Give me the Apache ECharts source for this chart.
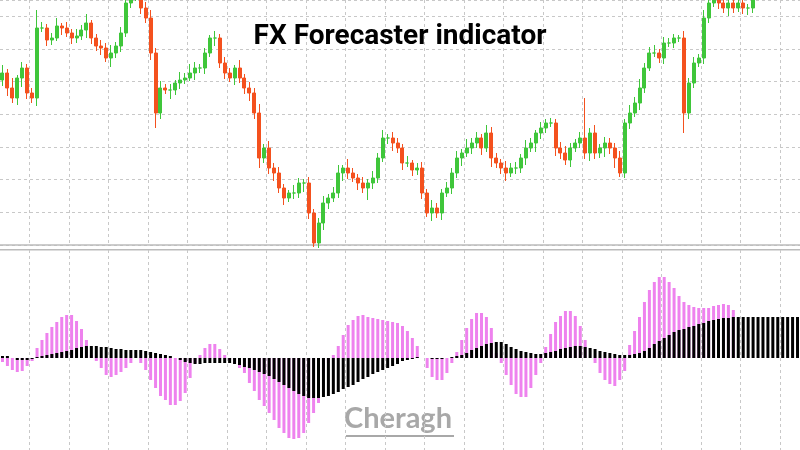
<!DOCTYPE html>
<html>
<head>
<meta charset="utf-8">
<script src="https://cdn.jsdelivr.net/npm/echarts@6/dist/echarts.min.js"></script>
<style>html,body{margin:0;padding:0;background:#fff}#chart{width:800px;height:450px}</style>
</head>
<body>
<div id="chart"></div>
<script>
// price closes (chart units), first open, and wick lengths above/below the body
var closes = [172,157,147,167,177,152,147,217,217,205,207,219,217,212,207,209,215,222,207,199,197,187,192,199,212,242,252,257,237,227,192,132,157,155,155,162,165,167,172,177,177,192,207,207,182,172,167,177,167,157,152,132,87,97,77,72,57,47,52,52,62,62,32,2,22,42,47,52,72,77,72,67,62,57,62,67,87,107,107,102,97,82,82,75,77,52,32,37,32,52,57,72,87,92,97,102,107,97,112,87,82,77,72,77,77,87,97,102,112,117,122,122,97,92,85,97,102,107,92,112,92,97,102,97,87,72,122,132,142,157,177,192,192,187,202,202,207,207,132,162,182,187,227,242,247,242,237,242,237,242,237,237,247];
var firstOpen = 165;
var wickUp = [8,4,10,3,6,4,5,18,6,4,5,8,3,6,4,7,5,9,3,4,6,5,8,4,6,12,5,4,3,6,8,5,7,4,6,3,8,5,9,6,4,5,3,7,4,6,5,3,8,4,6,5,9,4,7,5,6,4,3,8,5,4,6,4,5,7,4,6,8,3,9,5,4,6,4,7,5,8,4,6,5,4,7,3,5,6,4,8,5,4,6,5,7,4,9,5,6,4,8,6,5,4,7,5,6,4,8,5,3,6,4,5,4,6,7,5,4,6,40,5,8,4,6,5,5,7,4,8,6,9,5,6,8,4,6,5,4,3,7,5,6,4,8,6,5,4,7,5,4,6,5,4,6];
var wickDown = [6,8,5,7,9,6,5,8,4,6,5,3,7,4,6,5,4,8,6,5,7,4,9,5,6,4,5,8,6,5,7,15,6,4,9,5,6,4,3,7,5,6,4,8,5,6,4,7,5,6,8,6,10,5,6,8,5,7,4,6,5,9,6,4,5,7,6,4,5,8,6,4,7,5,12,6,5,4,6,8,5,7,4,6,5,6,4,8,5,7,4,6,5,8,4,6,5,7,4,9,5,6,8,4,6,5,7,4,9,6,5,4,8,6,5,7,4,5,6,8,6,5,9,6,10,4,5,6,4,7,5,3,4,5,6,4,5,4,20,6,5,4,6,5,4,6,5,8,5,4,6,7,5];
// indicator histograms (zero = 0)
var forecast = [-4,-8,-12,-14,-13,-8,-3,10,18,25,31,36,41,43,43,37,29,18,3,-3,-10,-17,-19,-17,-14,-10,-5,0,-5,-12,-22,-30,-38,-42,-47,-47,-43,-35,-20,-5,3,10,14,14,9,3,-2,-5,-10,-15,-25,-33,-42,-48,-55,-62,-70,-75,-80,-81,-80,-75,-65,-55,-45,-15,-5,3,12,23,33,38,42,43,41,40,39,38,37,36,35,32,27,20,12,0,-10,-19,-22,-22,-15,-5,6,18,30,39,45,45,41,30,5,-5,-17,-27,-36,-39,-39,-30,-17,-5,11,24,36,42,47,47,42,32,18,0,-5,-15,-22,-26,-28,-22,-13,13,27,41,56,68,76,81,81,76,70,62,56,53,51,50,50,50,52,53,54,53,48];
var trend = [2,2,0,-2,-2,-2,-1,1,2,3,4,5,6,7,8,10,11,12,12,12,11,11,10,9,9,8,8,8,8,7,6,5,4,3,2,0,-2,-4,-5,-6,-6,-5,-5,-5,-5,-5,-5,-6,-7,-9,-10,-12,-14,-16,-18,-21,-24,-27,-30,-33,-36,-38,-40,-40,-40,-39,-38,-36,-34,-31,-29,-27,-24,-21,-19,-16,-14,-12,-10,-8,-6,-3,-2,-1,1,0,0,-1,-1,-1,0,1,2,3,5,8,10,12,14,15,16,16,14,11,9,7,6,5,4,4,5,6,7,9,10,11,12,12,11,10,9,7,6,5,4,3,3,3,4,5,7,10,14,17,20,23,26,28,29,31,32,34,35,37,38,39,40,40,41,41,41,41,41,41,41,41,41,41,41,41,41,41];

var cats = trend.map(function (v, i) { return i; });
var candles = closes.map(function (c, i) {
    var o = i === 0 ? firstOpen : closes[i - 1];
    return [o, c, Math.min(o, c) - wickDown[i], Math.max(o, c) + wickUp[i]];
});

var gridLine = function (idx) { return (idx - 6) % 8 === 0; };
var dash = { show: true, interval: gridLine, lineStyle: { color: '#c8c8c8', type: [3, 3], width: 1 } };

var chart = echarts.init(document.getElementById('chart'));
chart.setOption({
    animation: false,
    backgroundColor: '#fff',
    title: {
        text: 'FX Forecaster indicator', left: 'center', top: 18,
        textStyle: { fontFamily: 'Roboto', fontWeight: 'bold', fontSize: 28, color: '#000' }
    },
    graphic: [{
        type: 'text', left: 344, top: 404,
        style: { text: 'Cheragh', fontFamily: 'Lato', fontWeight: 'bold', fontSize: 29, fill: '#a8a8a8' }
    }, {
        type: 'rect', left: 346, top: 435, shape: { width: 108, height: 2 }, style: { fill: '#a8a8a8' }
    }, {
        type: 'rect', left: 0, top: 249, shape: { width: 800, height: 1.5 }, style: { fill: '#bbb' }
    }],
    grid: [
        { left: 0, right: 0, top: 0, height: 245 },
        { left: 0, right: 0, top: 250, bottom: 0 }
    ],
    xAxis: [{
        type: 'category', gridIndex: 0, data: cats,
        axisTick: { show: false, alignWithLabel: true, interval: gridLine }, axisLabel: { show: false },
        axisLine: { lineStyle: { color: '#bbb', width: 1.5 } }, splitLine: dash
    }, {
        type: 'category', gridIndex: 1, data: cats, position: 'top',
        axisTick: { show: false, alignWithLabel: true, interval: gridLine }, axisLabel: { show: false },
        axisLine: { show: false }, splitLine: dash
    }],
    yAxis: [{
        type: 'value', gridIndex: 0, min: 0, max: 245, interval: 32.7,
        axisLabel: { show: false }, axisLine: { show: false }, axisTick: { show: false },
        splitLine: { lineStyle: { color: '#c8c8c8', type: [3, 3] } }
    }, {
        type: 'value', gridIndex: 1, min: -92, max: 108,
        axisLabel: { show: false }, axisLine: { show: false }, axisTick: { show: false },
        splitLine: { show: false }
    }],
    series: [{
        type: 'candlestick', xAxisIndex: 0, yAxisIndex: 0, data: candles, barWidth: 3.5,
        itemStyle: { color: '#3fc63a', color0: '#f4511e', borderColor: '#3fc63a', borderColor0: '#f4511e', borderWidth: 1 }
    }, {
        type: 'bar', xAxisIndex: 1, yAxisIndex: 1, data: forecast, barWidth: 3,
        itemStyle: { color: '#ee82ee' }
    }, {
        type: 'bar', xAxisIndex: 1, yAxisIndex: 1, data: trend, barWidth: 3, barGap: '-100%',
        itemStyle: { color: '#000' }
    }]
});
</script>
</body>
</html>
